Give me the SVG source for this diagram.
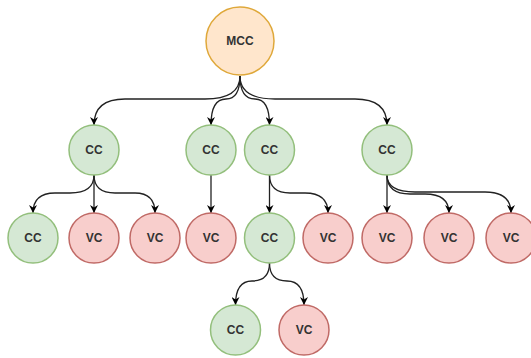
<svg xmlns="http://www.w3.org/2000/svg" width="531" height="358" viewBox="0 0 531 358">
  <defs>
    <marker id="arrow" viewBox="0 0 10 10" refX="10" refY="5" markerWidth="8" markerHeight="8" markerUnits="userSpaceOnUse" orient="auto">
      <path d="M0,0 L10,5 L0,10 L3,5 Z" fill="#000"/>
    </marker>
  </defs>
  <style>
    .edge { fill: none; stroke: #222; stroke-width: 1.3; marker-end: url(#arrow); }
    .cc { fill: #d5e8d4; stroke: #93bf7c; stroke-width: 1.5; }
    .vc { fill: #f8cecc; stroke: #c06a66; stroke-width: 1.5; }
    .mcc { fill: #ffe6cc; stroke: #dfa83a; stroke-width: 1.5; }
    text { font-family: "Liberation Sans", Arial, sans-serif; font-size: 12px; font-weight: bold; fill: #333; text-anchor: middle; dominant-baseline: central; }
  </style>

  <!-- connectors -->
  <g id="edges">
    <!-- root to first level -->
    <path class="edge" d="M240,76 Q240,99 205,99 L125,99 Q94,99 94,125"/>
    <path class="edge" d="M240,76 Q240,99 226,99 Q211,99 211,125"/>
    <path class="edge" d="M240,76 Q240,99 255,99 Q269.5,99 269.5,125"/>
    <path class="edge" d="M240,76 Q240,99 275,99 L355,99 Q387,99 387,125"/>
    <!-- first level to second level -->
    <path class="edge" d="M94,175 Q94,193 70,193 L55,193 Q33,193 33,213"/>
    <path class="edge" d="M94,175 L94,213"/>
    <path class="edge" d="M94,175 Q94,193 115,193 L135,193 Q155,193 155,213"/>
    <path class="edge" d="M211,175 L211,213"/>
    <path class="edge" d="M269.5,175 L269.5,213"/>
    <path class="edge" d="M269.5,175 Q269.5,193 290,193 L305,193 Q328,193 328,213"/>
    <path class="edge" d="M387,175 L387,213"/>
    <path class="edge" d="M387,175 Q387,194 410,194 L425,194 Q449,194 449,213"/>
    <path class="edge" d="M387,175 Q387,192 415,192 L485,192 Q511,192 511,213"/>
    <!-- second level to third level -->
    <path class="edge" d="M269.5,263 Q269.5,281 252,281 Q235.5,281 235.5,305"/>
    <path class="edge" d="M269.5,263 Q269.5,281 287,281 Q304,281 304,305"/>
  </g>

  <!-- root -->
  <g id="mcc">
    <circle class="mcc" cx="240" cy="41" r="34"/>
    <text x="240" y="41">MCC</text>
  </g>

  <!-- first level -->
  <g id="cc-1a"><circle class="cc" cx="94" cy="150" r="25"/><text x="94" y="150">CC</text></g>
  <g id="cc-1b"><circle class="cc" cx="211" cy="150" r="25"/><text x="211" y="150">CC</text></g>
  <g id="cc-1c"><circle class="cc" cx="269.5" cy="150" r="25"/><text x="269.5" y="150">CC</text></g>
  <g id="cc-1d"><circle class="cc" cx="387" cy="150" r="25"/><text x="387" y="150">CC</text></g>

  <!-- second level -->
  <g id="cc-2a"><circle class="cc" cx="33" cy="238" r="25"/><text x="33" y="238">CC</text></g>
  <g id="vc-2a"><circle class="vc" cx="94" cy="238" r="25"/><text x="94" y="238">VC</text></g>
  <g id="vc-2b"><circle class="vc" cx="155" cy="238" r="25"/><text x="155" y="238">VC</text></g>
  <g id="vc-2c"><circle class="vc" cx="211" cy="238" r="25"/><text x="211" y="238">VC</text></g>
  <g id="cc-2b"><circle class="cc" cx="269.5" cy="238" r="25"/><text x="269.5" y="238">CC</text></g>
  <g id="vc-2d"><circle class="vc" cx="328" cy="238" r="25"/><text x="328" y="238">VC</text></g>
  <g id="vc-2e"><circle class="vc" cx="387" cy="238" r="25"/><text x="387" y="238">VC</text></g>
  <g id="vc-2f"><circle class="vc" cx="449" cy="238" r="25"/><text x="449" y="238">VC</text></g>
  <g id="vc-2g"><circle class="vc" cx="511" cy="238" r="25"/><text x="511" y="238">VC</text></g>

  <!-- third level -->
  <g id="cc-3a"><circle class="cc" cx="235.5" cy="330" r="25"/><text x="235.5" y="330">CC</text></g>
  <g id="vc-3a"><circle class="vc" cx="304" cy="330" r="25"/><text x="304" y="330">VC</text></g>
</svg>
